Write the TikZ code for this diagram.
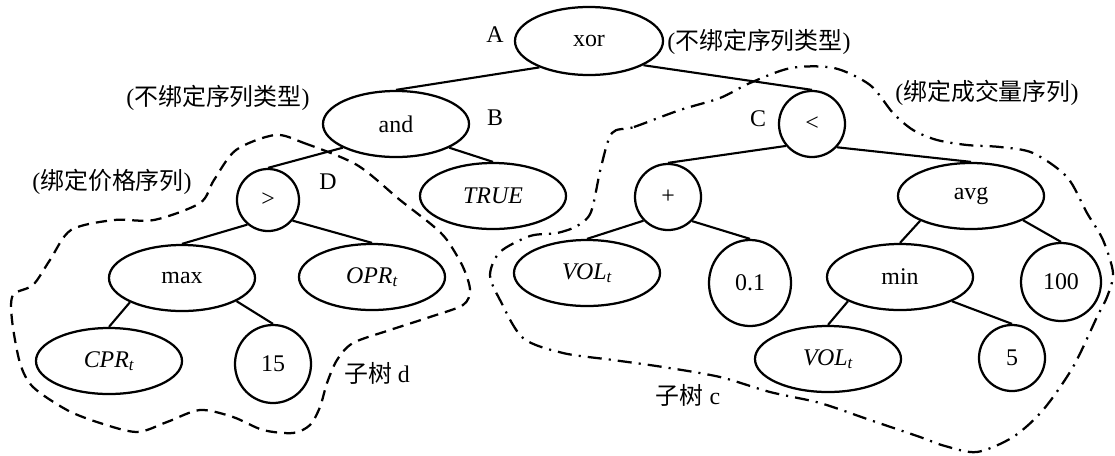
\documentclass[tikz,border=0pt]{standalone}
\usepackage{fontspec}
\setmainfont{Liberation Serif}
\newfontfamily\cjk{Noto Sans CJK SC}
\usetikzlibrary{shapes.geometric}

\begin{document}
\begin{tikzpicture}[x=0.025cm,y=-0.025cm,
  font=\fontsize{17pt}{20pt}\selectfont,
  op/.style={draw,ellipse,line width=1.6pt,inner sep=0pt,minimum width=3.65cm,minimum height=1.65cm},
  sop/.style={draw,circle,line width=1.6pt,inner sep=0pt,minimum size=1.65cm},
  num/.style={draw,ellipse,line width=1.6pt,inner sep=0pt,minimum width=2cm,minimum height=2cm},
  edge/.style={line width=1.5pt},
  subd/.style={line width=1.6pt,dash pattern=on 8pt off 5pt},
  subc/.style={line width=1.6pt,dash pattern=on 10pt off 5pt on 1.5pt off 5pt}]
\useasboundingbox (0,0) rectangle (1115,455);

\node[op,minimum width=3.7cm,minimum height=1.7cm] (xor) at (589,41) {xor};
\node[op] (and) at (396,124) {and};
\node[sop] (lt) at (812,124) {<};
\node[sop,minimum size=1.55cm] (gt) at (268,200) {>};
\node[op] (true) at (493,196) {\textit{TRUE}};
\node[sop] (plus) at (668,197) {+};
\node[op] (avg) at (971,196) {avg};
\node[op] (max) at (182,278) {max};
\node[op] (opr) at (372,277) {\textit{OPR\textsubscript{t}}};
\node[op] (vola) at (587,273) {\textit{VOL\textsubscript{t}}};
\node[num,minimum width=2.05cm,minimum height=2.15cm] (small) at (750,283) {0.1};
\node[op] (min) at (900,277) {min};
\node[num,minimum height=1.95cm] (hund) at (1061,282) {100};
\node[op] (cpr) at (109,361) {\textit{CPR\textsubscript{t}}};
\node[num,minimum width=1.9cm,minimum height=1.95cm] (fift) at (273,364) {15};
\node[op] (volb) at (828,359) {\textit{VOL\textsubscript{t}}};
\node[sop] (five) at (1012,358) {5};

\draw[edge] (xor.208) -- (and.north);
\draw[edge] (xor.336) -- (lt.north);
\draw[edge] (and.204) -- (gt.north);
\draw[edge] (and.336) -- (true.north);
\draw[edge] (gt.230) -- (max.north);
\draw[edge] (gt.320) -- (opr.north);
\draw[edge] (max.205) -- (cpr.north);
\draw[edge] (max.337) -- (fift.north);
\draw[edge] (lt.220) -- (plus.north);
\draw[edge] (lt.317) -- (avg.north);
\draw[edge] (plus.224) -- (vola.north);
\draw[edge] (plus.315) -- (small.north);
\draw[edge] (avg.206) -- (min.north);
\draw[edge] (avg.335) -- (hund.north);
\draw[edge] (min.205) -- (volb.north);
\draw[edge] (min.335) -- (five.north);

\node (la) at (495,35) {A};
\node (lb) at (495,118) {B};
\node (lc) at (758,119) {C};
\node (ld) at (328,182) {D};
\node (ta) at (759,42) {({\cjk 不绑定序列类型})};
\node (tb) at (218,98) {({\cjk 不绑定序列类型})};
\node (tc) at (987,93) {({\cjk 绑定成交量序列})};
\node (td) at (112,182) {({\cjk 绑定价格序列})};
\node (sd) at (377,373) {{\cjk 子树} d};
\node (sc) at (688,395) {{\cjk 子树} c};

\draw[subd] plot[smooth cycle] coordinates {(275,135) (304,143) (357,165) (400,200) (432,225)
  (447,240) (463,267) (470,290) (463,305) (430,317) (390,330) (353,343) (337,360) (327,383)
  (320,407) (310,425) (293,433) (263,430) (233,417) (200,410) (167,422) (137,432) (100,423)
  (67,410) (33,387) (20,363) (12,320) (13,295) (33,285) (50,260) (71,230) (114,220) (154,220)
  (200,203) (214,180) (236,150)};
\draw[subc] plot[smooth cycle] coordinates {(612,133) (634,127) (680,110) (720,98) (750,83)
  (791,68) (834,68) (870,85) (893,113) (913,130) (937,140) (967,145) (1000,147) (1033,153)
  (1067,177) (1087,213) (1103,240) (1113,273) (1107,297) (1097,317) (1073,367) (1043,410)
  (1013,437) (977,452) (945,446) (920,437) (870,420) (820,403) (770,392) (720,377) (663,367)
  (613,360) (563,353) (523,338) (500,300) (490,275) (500,252) (530,236) (557,233) (577,226)
  (591,212) (601,167)};
\end{tikzpicture}
\end{document}
